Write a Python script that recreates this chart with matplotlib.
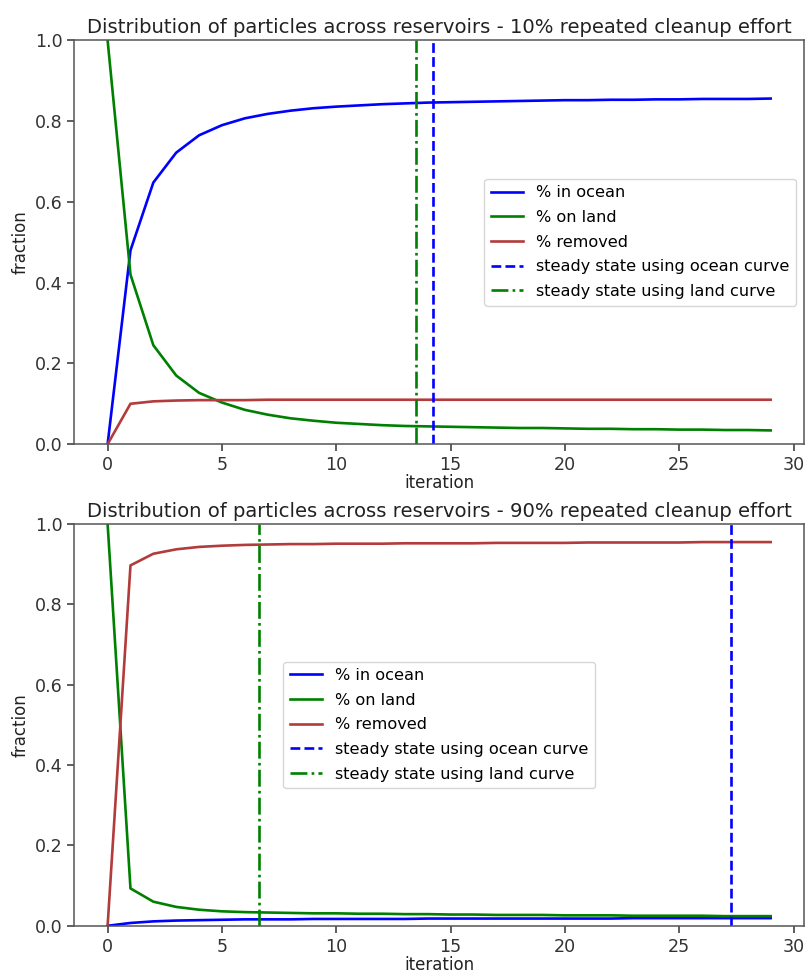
import numpy as np
import matplotlib
matplotlib.use("Agg")
import matplotlib.pyplot as plt

# --- datos ---
iteracion = list(range(30))

ocean_10 = [0.0, 0.48, 0.648, 0.722, 0.765, 0.790, 0.807, 0.818, 0.826, 0.832,
            0.836, 0.839, 0.842, 0.844, 0.846, 0.847, 0.848, 0.849, 0.850, 0.851,
            0.852, 0.852, 0.853, 0.853, 0.854, 0.854, 0.855, 0.855, 0.855, 0.856]
land_10 = [1.0, 0.42, 0.245, 0.170, 0.127, 0.103, 0.085, 0.073, 0.064, 0.058,
           0.053, 0.050, 0.047, 0.045, 0.044, 0.043, 0.042, 0.041, 0.040, 0.040,
           0.039, 0.038, 0.038, 0.037, 0.037, 0.036, 0.036, 0.035, 0.035, 0.034]
removed_10 = [0.0, 0.100, 0.106, 0.108, 0.109, 0.109, 0.109, 0.110, 0.110, 0.110,
              0.110, 0.110, 0.110, 0.110, 0.110, 0.110, 0.110, 0.110, 0.110, 0.110,
              0.110, 0.110, 0.110, 0.110, 0.110, 0.110, 0.110, 0.110, 0.110, 0.110]
ss_ocean_10 = 14.25
ss_land_10 = 13.48

ocean_90 = [0.0, 0.007, 0.011, 0.013, 0.014, 0.015, 0.016, 0.016, 0.016, 0.017,
            0.017, 0.017, 0.017, 0.017, 0.018, 0.018, 0.018, 0.018, 0.018, 0.018,
            0.018, 0.018, 0.018, 0.019, 0.019, 0.019, 0.019, 0.019, 0.019, 0.019]
land_90 = [1.0, 0.093, 0.060, 0.047, 0.040, 0.036, 0.034, 0.033, 0.032, 0.031,
           0.031, 0.030, 0.030, 0.029, 0.029, 0.028, 0.028, 0.027, 0.027, 0.027,
           0.026, 0.026, 0.026, 0.025, 0.025, 0.025, 0.025, 0.024, 0.024, 0.024]
removed_90 = [0.0, 0.897, 0.926, 0.937, 0.943, 0.946, 0.948, 0.949, 0.950, 0.950,
              0.951, 0.951, 0.951, 0.952, 0.952, 0.952, 0.952, 0.953, 0.953, 0.953,
              0.953, 0.954, 0.954, 0.954, 0.954, 0.954, 0.955, 0.955, 0.955, 0.955]
ss_ocean_90 = 27.25
ss_land_90 = 6.63

paneles = [
    ("10%", ocean_10, land_10, removed_10, ss_ocean_10, ss_land_10, "center right"),
    ("90%", ocean_90, land_90, removed_90, ss_ocean_90, ss_land_90, "center"),
]

fs = 12.6
lw = 1.9
rojo = "#b23b3b"
fig = plt.figure(figsize=(8.05, 9.74), dpi=100)
posiciones = [[0.0925, 0.544, 0.906, 0.4145], [0.0925, 0.0495, 0.906, 0.4125]]

for (pct, oc, la, rm, sso, ssl, loc), pos in zip(paneles, posiciones):
    ax = fig.add_axes(pos)
    ax.plot(iteracion, oc, color="blue", lw=lw, label="% in ocean")
    ax.plot(iteracion, la, color="green", lw=lw, label="% on land")
    ax.plot(iteracion, rm, color=rojo, lw=lw, label="% removed")
    ax.axvline(sso, color="blue", ls="--", lw=lw, label="steady state using ocean curve")
    ax.axvline(ssl, color="green", ls="-.", lw=lw, label="steady state using land curve")
    ax.set_ylim(0, 1.0)
    ax.set_title(f"Distribution of particles across reservoirs - {pct} repeated cleanup effort",
                 fontsize=14.1, color="#222222", pad=5)
    ax.set_xlabel("iteration", fontsize=fs * 0.95, color="#222222", labelpad=0)
    ax.set_ylabel("fraction", fontsize=fs * 0.95, color="#222222")
    ax.tick_params(labelsize=fs, colors="#333333", length=5, width=1.1)
    for s in ax.spines.values():
        s.set_color("#555555")
        s.set_linewidth(1.1)
    ax.legend(loc=loc, fontsize=11.6, handlelength=2.0, labelspacing=0.6, framealpha=0.8)

fig.savefig("out.png", dpi=100)
